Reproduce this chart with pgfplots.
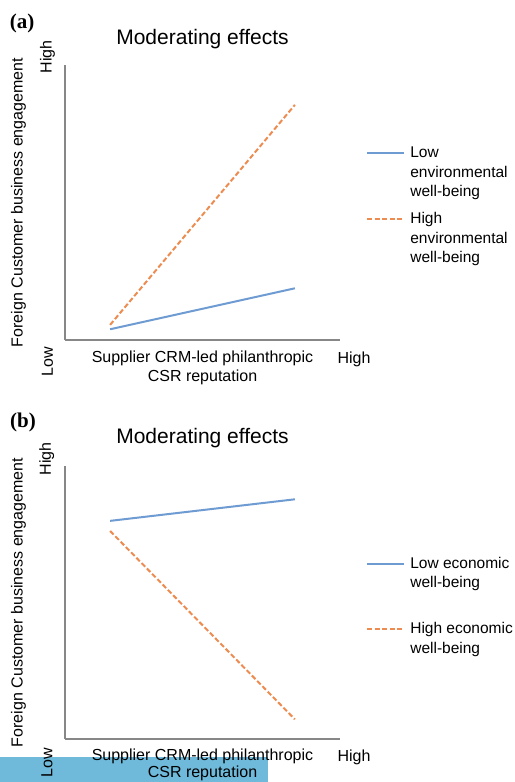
\documentclass[border=0pt]{standalone}
\usepackage{fontspec}
\setmainfont{Liberation Sans}
\newfontfamily\timesfont{Liberation Serif}
\usepackage{pgfplots}
\pgfplotsset{compat=1.18}
\usetikzlibrary{backgrounds}

\definecolor{lineblue}{RGB}{110,155,210}
\definecolor{lineorange}{RGB}{236,140,80}
\definecolor{axisgray}{RGB}{135,135,135}
\definecolor{marker}{RGB}{111,185,218}

\pgfplotsset{
  modplot/.style={
    scale only axis, width=275bp,
    xmin=0, xmax=1, ymin=0, ymax=1,
    axis lines*=left,
    axis line style={axisgray, line width=1.5bp},
    xtick=\empty, ytick=\empty,
    clip=false,
    font=\fontsize{16bp}{19.5bp}\selectfont,
    every axis title shift=0pt,
    title style={font=\fontsize{21bp}{24bp}\selectfont, anchor=base},
    ylabel style={at={(rel axis cs:-0.169,0.5)}, rotate=0, anchor=center, inner sep=0pt},
    xlabel style={anchor=north, inner sep=0pt, align=center,
      font=\fontsize{16bp}{19bp}\selectfont},
    legend style={draw=none, fill=none, anchor=north west, inner sep=0pt,
      font=\fontsize{15.5bp}{19.5bp}\selectfont, column sep=3bp,
      cells={align=left}},
    legend cell align=left,
  },
  % legend sample raised to the first line of a multi-line entry
  legshift/.style={
    legend image code/.code={\draw[##1] (0bp,#1) -- (37bp,#1);},
  },
  blueline/.style={lineblue, line width=2bp},
  orangeline/.style={lineorange, line width=2bp, dash pattern=on 5bp off 2.5bp},
}

\begin{document}
\begin{tikzpicture}[x=1bp,y=1bp]
\useasboundingbox (0,0) rectangle (515,782);

% ---- panel (a)
\node[font=\timesfont\bfseries\fontsize{21bp}{23bp}\selectfont, anchor=base] at (22,753) {(a)};
\begin{axis}[modplot, height=275bp, at={(65bp,442bp)}, anchor=origin,
  title={Moderating effects},
  title style={at={(rel axis cs:0.5,1.073)}},
  ylabel={Foreign Customer business engagement},
  xlabel={Supplier CRM-led philanthropic\\CSR reputation},
  xlabel style={at={(rel axis cs:0.5,-0.04)}},
  legshift=19.5bp,
  legend style={at={(rel axis cs:1.095,0.709)}, row sep=10bp},
]
\addplot[blueline] coordinates {(0.164,0.039) (0.836,0.188)};
\addlegendentry{Low\\environmental\\well-being}
\addplot[orangeline] coordinates {(0.164,0.055) (0.836,0.855)};
\addlegendentry{High\\environmental\\well-being}
\node[rotate=90, anchor=center] at (rel axis cs:-0.0636,1.03) {High};
\node[rotate=90, anchor=center] at (rel axis cs:-0.0636,-0.08) {Low};
\node[anchor=base] at (rel axis cs:1.051,-0.085) {High};
\end{axis}

% ---- panel (b)
\node[font=\timesfont\bfseries\fontsize{21bp}{23bp}\selectfont, anchor=base] at (23,354) {(b)};
\begin{axis}[modplot, height=273bp, at={(65bp,43bp)}, anchor=origin,
  title={Moderating effects},
  title style={at={(rel axis cs:0.5,1.084)}},
  ylabel={Foreign Customer business engagement},
  xlabel={Supplier CRM-led philanthropic\\CSR reputation},
  xlabel style={at={(rel axis cs:0.5,-0.037)}, font=\fontsize{16bp}{17bp}\selectfont},
  legshift=9.75bp,
  legend style={at={(rel axis cs:1.095,0.674)}, row sep=29bp},
]
\addplot[blueline] coordinates {(0.164,0.799) (0.836,0.878)};
\addlegendentry{Low economic\\well-being}
\addplot[orangeline] coordinates {(0.164,0.762) (0.836,0.072)};
\addlegendentry{High economic\\well-being}
\node[rotate=90, anchor=center] at (rel axis cs:-0.066,1.026) {High};
\node[rotate=90, anchor=center] at (rel axis cs:-0.066,-0.086) {Low};
\node[anchor=base] at (rel axis cs:1.051,-0.084) {High};
\end{axis}

% highlight band at the bottom of panel (b)
\begin{scope}[on background layer]
\fill[marker] (0,0) rectangle (268,25);
\end{scope}
\end{tikzpicture}
\end{document}
